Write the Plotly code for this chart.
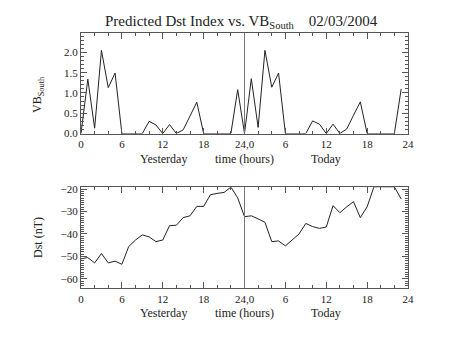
import plotly.graph_objects as go

# Hourly samples: hours 0-23 are yesterday, 24-47 today
hours = list(range(48))

vb_south = [
    0.0, 1.34, 0.13, 2.05, 1.13, 1.49, 0.0, 0.0, 0.0, 0.0, 0.30, 0.21,
    0.0, 0.22, 0.0, 0.09, 0.43, 0.77, 0.0, 0.0, 0.0, 0.0, 0.0, 1.08,
    0.0, 1.35, 0.15, 2.05, 1.14, 1.49, 0.0, 0.0, 0.0, 0.0, 0.31, 0.23,
    0.0, 0.23, 0.0, 0.11, 0.45, 0.78, 0.0, 0.0, 0.0, 0.0, 0.0, 1.10,
]

dst = [
    -51.1, -50.5, -52.9, -48.7, -52.9, -52.1, -53.5, -45.6, -42.7, -40.4, -41.3, -43.4,
    -42.7, -36.3, -36.1, -32.7, -31.9, -27.7, -27.7, -22.5, -21.9, -21.5, -19.1, -23.9,
    -32.3, -31.9, -33.3, -34.8, -43.4, -43.1, -45.3, -42.7, -40.0, -35.3, -36.7, -37.5,
    -36.9, -27.4, -30.5, -27.9, -25.6, -32.7, -27.9, -19.0, -19.0, -19.0, -19.0, -24.4,
]

x_tickvals = [0, 6, 12, 18, 24, 30, 36, 42, 48]
x_ticktext = ["0", "6", "12", "18", "24,0", "6", "12", "18", "24"]
vb_ticks = [0.0, 0.5, 1.0, 1.5, 2.0]
dst_ticks = [-60, -50, -40, -30, -20]

W, H = 453, 340
FONT = "Liberation Serif"
INK = "#222222"
AX = "#555555"

x_dom = [81 / W, 408 / W]
top_dom = [1 - 133.5 / H, 1 - 33.3 / H]
bot_dom = [1 - 288.3 / H, 1 - 187.3 / H]

fig = go.Figure()
fig.add_trace(go.Scatter(x=hours, y=vb_south, mode="lines",
                         line=dict(color=INK, width=1), xaxis="x", yaxis="y",
                         showlegend=False, hoverinfo="skip"))
fig.add_trace(go.Scatter(x=hours, y=dst, mode="lines",
                         line=dict(color=INK, width=1), xaxis="x2", yaxis="y2",
                         showlegend=False, hoverinfo="skip"))

common_x = dict(
    range=[0, 48], tickvals=x_tickvals, ticktext=x_ticktext,
    ticks="inside", ticklen=6, tickcolor=AX, mirror="allticks",
    showline=True, linecolor=AX, linewidth=1, showgrid=False, zeroline=False,
    minor=dict(ticks="inside", dtick=2, tick0=0, ticklen=3, tickcolor=AX, showgrid=False),
    tickfont=dict(family=FONT, size=11, color=INK), ticklabelstandoff=0,
    domain=x_dom, automargin=False,
)
common_y = dict(
    ticks="inside", ticklen=6, tickcolor=AX, mirror="allticks",
    showline=True, linecolor=AX, linewidth=1, showgrid=False, zeroline=False,
    tickfont=dict(family=FONT, size=11, color=INK), automargin=False,
)

fig.update_layout(
    width=W, height=H,
    margin=dict(l=0, r=0, t=0, b=0),
    paper_bgcolor="white", plot_bgcolor="white",
    xaxis=dict(anchor="y", **common_x),
    xaxis2=dict(anchor="y2", **common_x),
    yaxis=dict(anchor="x", domain=top_dom, range=[0, 2.47], tickvals=vb_ticks,
               ticktext=["0.0", "0.5", "1.0", "1.5", "2.0"],
               minor=dict(ticks="inside", dtick=0.1, tick0=0, ticklen=3,
                          tickcolor=AX, showgrid=False),
               **common_y),
    yaxis2=dict(anchor="x2", domain=bot_dom, range=[-64.2, -19.2], tickvals=dst_ticks,
                minor=dict(ticks="inside", dtick=1, tick0=0, ticklen=3,
                           tickcolor=AX, showgrid=False),
                **common_y),
)

# Day boundary marker at hour 24 in both panels
for xr, yr in (("x", "y"), ("x2", "y2")):
    fig.add_shape(type="line", xref=xr, yref=f"{yr} domain", x0=24, x1=24, y0=0, y1=1,
                  line=dict(color="#777777", width=1))

txt = dict(family=FONT, size=12, color=INK)
ann = [
    dict(text="Predicted Dst Index vs. VB<sub>South</sub>    02/03/2004",
         x=242 / W, y=1 - 22 / H, font=dict(family=FONT, size=15, color=INK)),
    dict(text="VB<sub>South</sub>", x=38 / W, y=1 - 95 / H, textangle=-90, font=txt),
    dict(text="Dst (nT)", x=38 / W, y=1 - 238 / H, textangle=-90, font=txt),
]
for yc in (159, 313):
    ann += [
        dict(text="Yesterday", x=163 / W, y=1 - yc / H, font=txt),
        dict(text="time (hours)", x=244 / W, y=1 - yc / H, font=txt),
        dict(text="Today", x=326 / W, y=1 - yc / H, font=txt),
    ]
for a in ann:
    fig.add_annotation(xref="paper", yref="paper", showarrow=False,
                       xanchor="center", yanchor="middle", **a)

fig.write_html("out.html")
